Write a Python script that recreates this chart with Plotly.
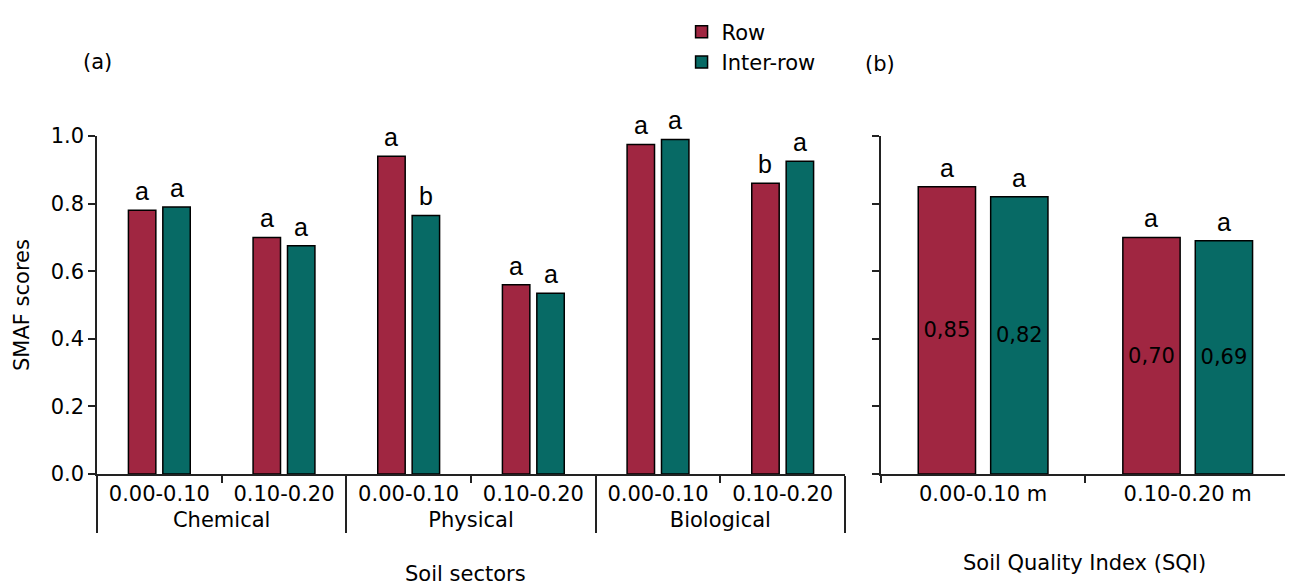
import plotly.graph_objects as go

# ---------------- data ----------------
sectors = ["Chemical", "Chemical", "Physical", "Physical", "Biological", "Biological"]
depths = ["0.00-0.10", "0.10-0.20", "0.00-0.10", "0.10-0.20", "0.00-0.10", "0.10-0.20"]
row_smaf = [0.78, 0.70, 0.94, 0.56, 0.975, 0.86]
inter_smaf = [0.79, 0.675, 0.765, 0.535, 0.99, 0.925]
row_smaf_letters = ["a", "a", "a", "a", "a", "b"]
inter_smaf_letters = ["a", "a", "b", "a", "a", "a"]

sqi_depths = ["0.00-0.10 m", "0.10-0.20 m"]
row_sqi = [0.85, 0.70]
inter_sqi = [0.82, 0.69]
row_sqi_letters = ["a", "a"]
inter_sqi_letters = ["a", "a"]

series_names = ["Row", "Inter-row"]
y_ticks = [0.0, 0.2, 0.4, 0.6, 0.8, 1.0]

# ---------------- style ----------------
RED = "#A02641"
TEAL = "#076A65"
AX = "#222222"
FONT = "DejaVu Sans"
LETTER_FONT = dict(family="Liberation Sans", size=25, color="black")
W1, OFF1 = 0.22, (-0.248, 0.028)
W2, OFF2 = 0.28, (-0.317, 0.037)


def fmt(v):
    return f"{v:.2f}".replace(".", ",")


fig = go.Figure()
annotations = []

# left panel
for vals, letters, col, off, name in [
    (row_smaf, row_smaf_letters, RED, OFF1[0], series_names[0]),
    (inter_smaf, inter_smaf_letters, TEAL, OFF1[1], series_names[1]),
]:
    fig.add_trace(go.Bar(
        x=[sectors, depths], y=vals, name=name,
        width=W1, offset=off,
        marker=dict(color=col, line=dict(color="black", width=1.5)),
        xaxis="x", yaxis="y",
    ))
    for i, (v, t) in enumerate(zip(vals, letters)):
        annotations.append(dict(text=t, x=i + off + W1 / 2, y=v, xref="x3", yref="y",
                                xanchor="center", yanchor="bottom", yshift=3,
                                showarrow=False, font=LETTER_FONT))

# right panel
for vals, letters, col, off in [
    (row_sqi, row_sqi_letters, RED, OFF2[0]),
    (inter_sqi, inter_sqi_letters, TEAL, OFF2[1]),
]:
    fig.add_trace(go.Bar(
        x=sqi_depths, y=vals, width=W2, offset=off,
        marker=dict(color=col, line=dict(color="black", width=1.5)),
        text=[fmt(v) for v in vals], textposition="inside",
        insidetextanchor="middle",
        textfont=dict(family=FONT, size=21, color="black"),
        xaxis="x2", yaxis="y2", showlegend=False,
    ))
    for i, (v, t) in enumerate(zip(vals, letters)):
        annotations.append(dict(text=t, x=i + off + W2 / 2, y=v, xref="x4", yref="y2",
                                xanchor="center", yanchor="bottom", yshift=3,
                                showarrow=False, font=LETTER_FONT))

yax = dict(range=[0, 1.0], tickvals=y_ticks, tickformat=".1f",
           ticks="outside", ticklen=7, tickwidth=1.5, tickcolor=AX,
           showline=True, linecolor=AX, linewidth=1.5,
           showgrid=False, zeroline=False,
           tickfont=dict(family=FONT, size=21, color="black"))

annotations += [
    dict(text="(a)", x=0.0, y=1.218, xref="paper", yref="paper",
         xanchor="center", yanchor="middle", showarrow=False, font=dict(size=21)),
    dict(text="(b)", x=0.656, y=1.212, xref="paper", yref="paper",
         xanchor="center", yanchor="middle", showarrow=False, font=dict(size=21)),
    dict(text="SMAF scores", x=-0.0629, y=0.5, xref="paper", yref="paper",
         xanchor="center", yanchor="middle", showarrow=False, textangle=-90,
         font=dict(size=21)),
    dict(text="Soil sectors", x=0.3085, y=-0.297, xref="paper", yref="paper",
         xanchor="center", yanchor="middle", showarrow=False, font=dict(size=21)),
    dict(text="Soil Quality Index (SQI)", x=0.828, y=-0.262, xref="paper",
         yref="paper", xanchor="center", yanchor="middle", showarrow=False,
         font=dict(size=21)),
]

fig.update_layout(
    width=1285, height=580,
    margin=dict(l=89, r=3, t=126, b=114),
    paper_bgcolor="white", plot_bgcolor="white",
    barmode="overlay",
    font=dict(family=FONT, size=21, color="black"),
    xaxis=dict(domain=[0, 0.627], type="multicategory",
               showline=True, linecolor=AX, linewidth=1.5,
               ticks="outside", ticklen=7, tickwidth=1.5, tickcolor=AX,
               tickson="boundaries", showdividers=True,
               dividercolor=AX, dividerwidth=1.5,
               showgrid=False, zeroline=False,
               tickfont=dict(family=FONT, size=21, color="black")),
    yaxis=yax,
    xaxis2=dict(domain=[0.657, 1.0], anchor="y2",
                showline=True, linecolor=AX, linewidth=1.5,
                ticks="outside", ticklen=7, tickwidth=1.5, tickcolor=AX,
                tickson="boundaries", showgrid=False, zeroline=False,
                tickfont=dict(family=FONT, size=21, color="black")),
    yaxis2=dict(yax, anchor="x2", showticklabels=False),
    xaxis3=dict(overlaying="x", range=[-0.5, 5.5], visible=False, anchor="y"),
    xaxis4=dict(overlaying="x2", range=[-0.5, 1.5], visible=False, anchor="y2"),
    legend=dict(x=0.49, y=1.368, xanchor="left", yanchor="top",
                orientation="v", font=dict(family=FONT, size=21),
                bgcolor="rgba(0,0,0,0)", tracegroupgap=0, itemwidth=30),
    showlegend=True,
    annotations=annotations,
)

fig.write_html("out.html")
